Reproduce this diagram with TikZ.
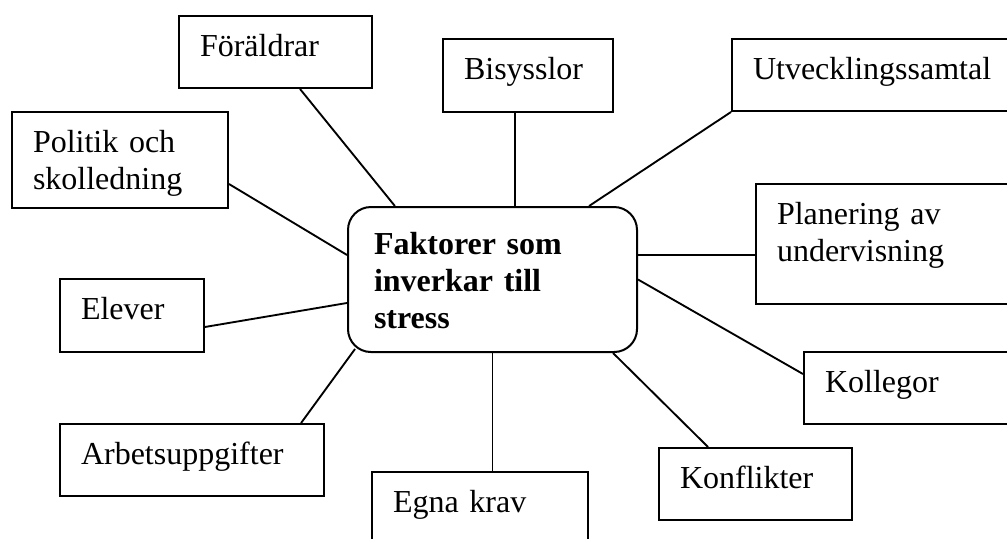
\documentclass[tikz,border=0pt]{standalone}
\usepackage{fontspec}
\setmainfont{Liberation Serif}
\usepackage{tikz}
\usetikzlibrary{backgrounds}
\definecolor{boxdraw}{HTML}{000000}
\definecolor{textcolor}{HTML}{000000}
\tikzset{
  factor box/.style 2 args={
    rectangle,
    draw=boxdraw,
    line width=0.75pt,
    anchor=north west,
    align=left,
    inner xsep=7.875pt,
    inner ysep=0pt,
    text width=#1,
    text height=15pt,
    text depth=#2,
    text=textcolor,
    font=\fontsize{12pt}{13.875pt}\selectfont
  },
  center box/.style={
    rectangle,
    rounded corners=8.6pt,
    draw=boxdraw,
    line width=0.75pt,
    anchor=north west,
    align=left,
    inner xsep=9.75pt,
    inner ysep=0pt,
    text width=88.875pt,
    text height=17.625pt,
    text depth=36.75pt,
    text=textcolor,
    font=\fontsize{12pt}{13.875pt}\selectfont\bfseries
  },
  link/.style={
    draw=boxdraw,
    line width=0.7pt
  }
}

\begin{document}
\begin{tikzpicture}[x=0.375pt,y=-0.375pt]
  \useasboundingbox (0,0) rectangle (1007,538);
  \clip (0,0) rectangle (1007,538);

  \node[center box] (C) at (347,206) {Faktorer som\\inverkar till\\stress};

  \node[factor box={56.625pt}{12pt}] (F-1) at (178,15) {Föräldrar};
  \node[factor box={48pt}{12.375pt}] (F-2) at (442,38) {Bisysslor};
  \node[factor box={100.125pt}{12pt}] (F-3) at (731,38) {Utvecklingssamtal};
  \node[factor box={65.25pt}{21pt}] (F-4) at (11,111) {Politik och\\skolledning};
  \node[factor box={91.125pt}{30pt}] (F-5) at (755,183) {Planering av\\undervisning};
  \node[factor box={38.25pt}{12.375pt}] (F-6) at (59,278) {Elever};
  \node[factor box={73.125pt}{12pt}] (F-7) at (803,351) {Kollegor};
  \node[factor box={83.25pt}{12pt}] (F-8) at (59,423) {Arbetsuppgifter};
  \node[factor box={65.25pt}{18.375pt}] (F-9) at (371,471) {Egna krav};
  \node[factor box={56.625pt}{12pt}] (F-10) at (658,447) {Konflikter};

  \begin{scope}[on background layer]
    \draw[link] ([xshift=9.2pt]F-1.south) -- ([xshift=-36.6pt]C.north);
    \draw[link] ([xshift=-4.9pt]F-2.south) -- ([xshift=-4.9pt]F-2.south |- C.north);
    \draw[link] (F-3.south west) -- ([xshift=36.2pt]C.north);
    \draw[link] ([yshift=-9pt]F-4.east) -- ([yshift=9.2pt]C.west);
    \draw[link] ([yshift=9.2pt]C.east) -- ([yshift=9.2pt]C.east -| F-5.west);
    \draw[link] ([yshift=-4.3pt]F-6.east) -- ([yshift=-8.8pt]C.west);
    \draw[link] (C.east) -- ([yshift=5.25pt]F-7.west);
    \draw[link] ([xshift=40.9pt]F-8.north) -- ([xshift=3pt,yshift=1.5pt]C.south west);
    \draw[link] (C.south) -- (C.south |- F-9.north);
    \draw[link] ([xshift=45.2pt]C.south) -- ([xshift=-17.8pt]F-10.north);
  \end{scope}
\end{tikzpicture}
\end{document}
